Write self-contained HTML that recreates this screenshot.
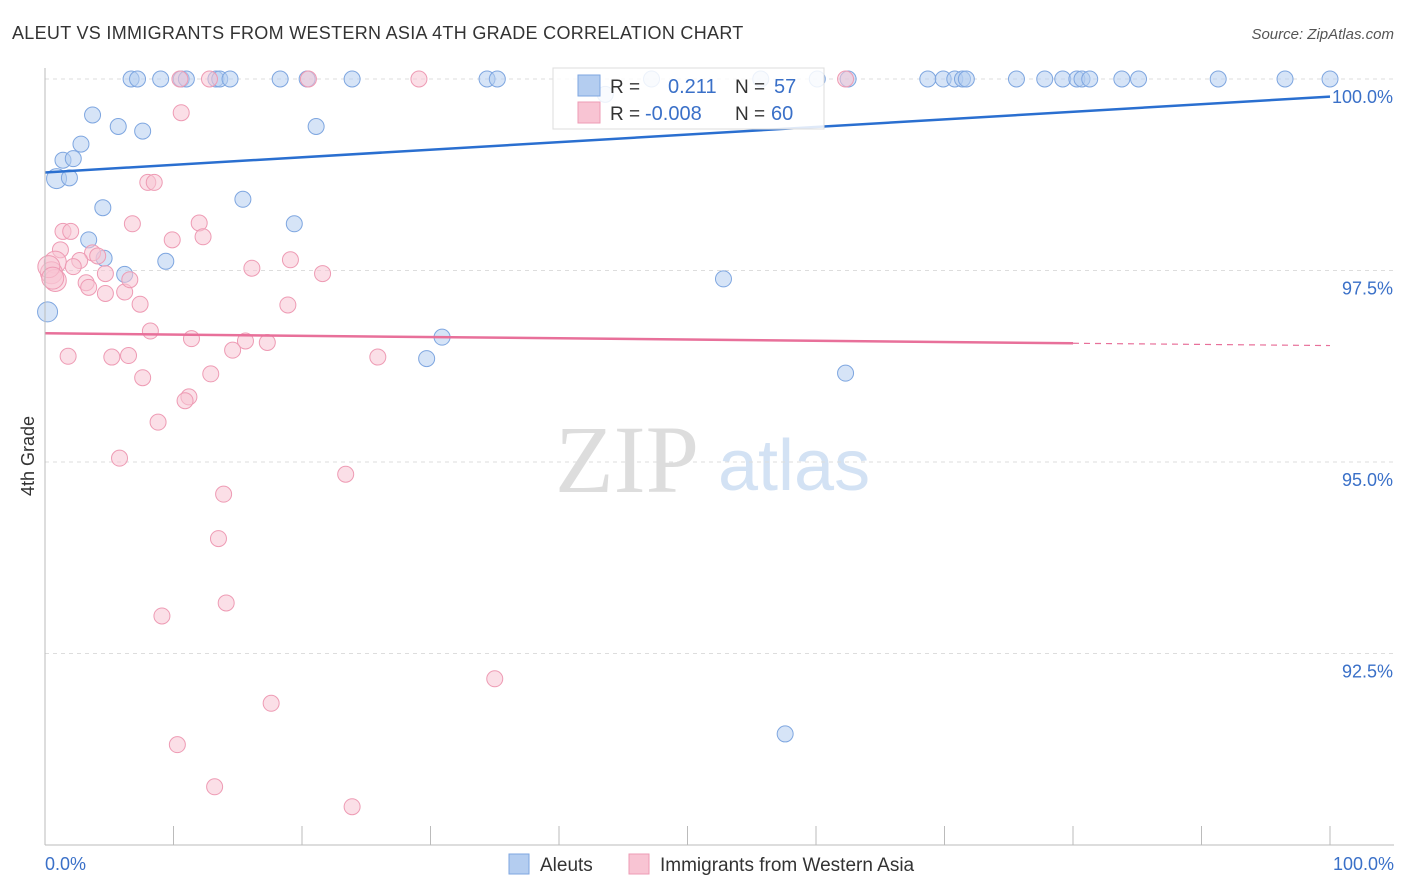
<!DOCTYPE html>
<html><head><meta charset="utf-8"><style>
body{margin:0;background:#fff;font-family:"Liberation Sans",sans-serif;}
svg{display:block}
</style></head><body>
<svg id="c" width="1406" height="892">
<text x="12" y="39" font-size="18" fill="#333" letter-spacing="0.3">ALEUT VS IMMIGRANTS FROM WESTERN ASIA 4TH GRADE CORRELATION CHART</text>
<text x="1394" y="39" font-size="15" fill="#555" font-style="italic" text-anchor="end">Source: ZipAtlas.com</text>
<text x="34" y="456" font-size="18" fill="#333" transform="rotate(-90 34 456)" text-anchor="middle">4th Grade</text>
<text x="555" y="492" font-size="96" fill="#ddd" font-family="Liberation Serif,serif">ZIP</text>
<text x="718" y="490" font-size="72" fill="#d3e2f4">atlas</text>
<g id="grid"></g><g id="marks"></g>
<line x1="45" y1="68" x2="45" y2="845" stroke="#bbb"/>
<line x1="45" y1="845" x2="1394" y2="845" stroke="#bbb"/>
<text x="45" y="870" font-size="18" fill="#3a70c8">0.0%</text>
<text x="1394" y="870" font-size="18" fill="#3a70c8" text-anchor="end">100.0%</text>
<g>
<rect x="553" y="68" width="271" height="61" fill="#fff" fill-opacity="0.85" stroke="#ddd"/>
<rect x="578" y="75" width="22" height="21" fill="#b4cdf0" stroke="#7ea6e0"/>
<rect x="578" y="102" width="22" height="21" fill="#f8c4d3" stroke="#ee9bb4"/>
<text x="610" y="93" font-size="19" fill="#333">R =</text><text x="668" y="93" font-size="20" fill="#3a70c8">0.211</text>
<text x="735" y="93" font-size="19" fill="#333">N =</text><text x="774" y="93" font-size="20" fill="#3a70c8">57</text>
<text x="610" y="120" font-size="19" fill="#333">R =</text><text x="645" y="120" font-size="20" fill="#3a70c8">-0.008</text>
<text x="735" y="120" font-size="19" fill="#333">N =</text><text x="771" y="120" font-size="20" fill="#3a70c8">60</text>
</g>
<g>
<rect x="509" y="854" width="20" height="20" fill="#b4cdf0" stroke="#7ea6e0"/>
<text x="540" y="871" font-size="19" fill="#333">Aleuts</text>
<rect x="629" y="854" width="20" height="20" fill="#f8c4d3" stroke="#ee9bb4"/>
<text x="660" y="871" font-size="19" fill="#333">Immigrants from Western Asia</text>
</g>
</svg>
<script>
const yTicks=[100,97.5,95,92.5];
const yTickLabels=["100.0%","97.5%","95.0%","92.5%"];
const blueX=[6.7,7.2,9,10.6,11,13.3,13.6,14.4,18.3,20.4,23.9,34.4,35.2,43.6,47.2,55.7,60.1,62.5,68.7,69.9,70.8,71.4,71.7,75.6,77.8,79.2,80.3,80.7,81.3,83.8,85.1,91.3,96.5,100,3.7,5.7,7.6,21.1,2.8,1.4,2.2,0.9,1.9,4.5,15.4,19.4,3.4,4.6,9.4,6.2,52.8,0.2,30.9,29.7,62.3,57.6];
const blueY=[100,100,100,100,100,100,100,100,100,100,100,100,100,99.8,100,100,100,100,100,100,100,100,100,100,100,100,100,100,100,100,100,100,100,100,99.53,99.38,99.32,99.38,99.15,98.94,98.96,98.7,98.71,98.32,98.43,98.11,97.9,97.66,97.62,97.45,97.39,96.96,96.63,96.35,96.16,91.45];
const pinkX=[10.5,12.8,20.5,29.1,62.3,10.6,8,8.5,6.8,1.4,2,12,9.9,12.3,1.2,0.8,3.7,4.1,2.7,2.2,19.1,16.1,21.6,4.7,0.5,0.8,3.2,3.4,6.2,4.7,6.6,7.4,18.9,8.2,11.4,15.6,17.3,14.6,1.8,5.2,6.5,25.9,7.6,12.9,11.2,10.9,8.8,5.8,23.4,13.9,13.5,14.1,9.1,35,17.6,10.3,13.2,23.9,0.3,0.6];
const pinkY=[100,100,100,100,100,99.56,98.65,98.65,98.11,98.01,98.01,98.12,97.9,97.94,97.77,97.61,97.73,97.69,97.63,97.55,97.64,97.53,97.46,97.46,97.47,97.37,97.34,97.28,97.22,97.2,97.38,97.06,97.05,96.71,96.61,96.58,96.56,96.46,96.38,96.37,96.39,96.37,96.1,96.15,95.85,95.8,95.52,95.05,94.84,94.58,94,93.16,92.99,92.17,91.85,91.31,90.76,90.5,97.55,97.4];
const blueTrend=[[0,98.78],[100,99.77]];
const pinkTrend=[[0,96.68],[80,96.55],[100,96.52]];
const X=v=>45+v*12.85, Y=v=>79+(100-v)*76.6;
const NS="http://www.w3.org/2000/svg";
const g=document.getElementById('grid'), m=document.getElementById('marks');
function mk(t,a,p){const e=document.createElementNS(NS,t);for(const k in a)e.setAttribute(k,a[k]);p.appendChild(e);return e;}
yTicks.forEach((t,i)=>{
 const l=mk('line',{x1:45,x2:1394,y1:Y(t),y2:Y(t),stroke:'#ddd','stroke-dasharray':'4,4'},g);
 
 
 const tx=mk('text',{x:1393,y:Y(t)+24,'font-size':18,fill:'#3a70c8','text-anchor':'end'},g);
 tx.textContent=yTickLabels[i];
 
 
});
for(let i=0;i<=10;i++){
 const l=mk('line',{x1:X(i*10),x2:X(i*10),y1:826,y2:845,stroke:'#bbb'},g);
 
 
}
blueX.forEach((x,i)=>{
 const c=mk('circle',{cx:X(x),cy:Y(blueY[i]),r:x<1?10:8,fill:'#b4cdf0','fill-opacity':0.55,stroke:'#7ea6e0','stroke-width':1},m);
 
 
});
pinkX.forEach((x,i)=>{
 const c=mk('circle',{cx:X(x),cy:Y(pinkY[i]),r:x<1?11:8,fill:'#f8c4d3','fill-opacity':0.55,stroke:'#ee9bb4','stroke-width':1},m);
 
 
});
const bl=mk('line',{x1:X(blueTrend[0][0]),y1:Y(blueTrend[0][1]),x2:X(blueTrend[1][0]),y2:Y(blueTrend[1][1]),stroke:'#2a6fd0','stroke-width':2.5},m);


const pl=mk('line',{x1:X(pinkTrend[0][0]),y1:Y(pinkTrend[0][1]),x2:X(pinkTrend[1][0]),y2:Y(pinkTrend[1][1]),stroke:'#e8709a','stroke-width':2.5},m);


const pd=mk('line',{x1:X(pinkTrend[1][0]),y1:Y(pinkTrend[1][1]),x2:X(pinkTrend[2][0]),y2:Y(pinkTrend[2][1]),stroke:'#e8709a','stroke-width':1.2,'stroke-dasharray':'6,5'},m);


</script>
</body></html>
